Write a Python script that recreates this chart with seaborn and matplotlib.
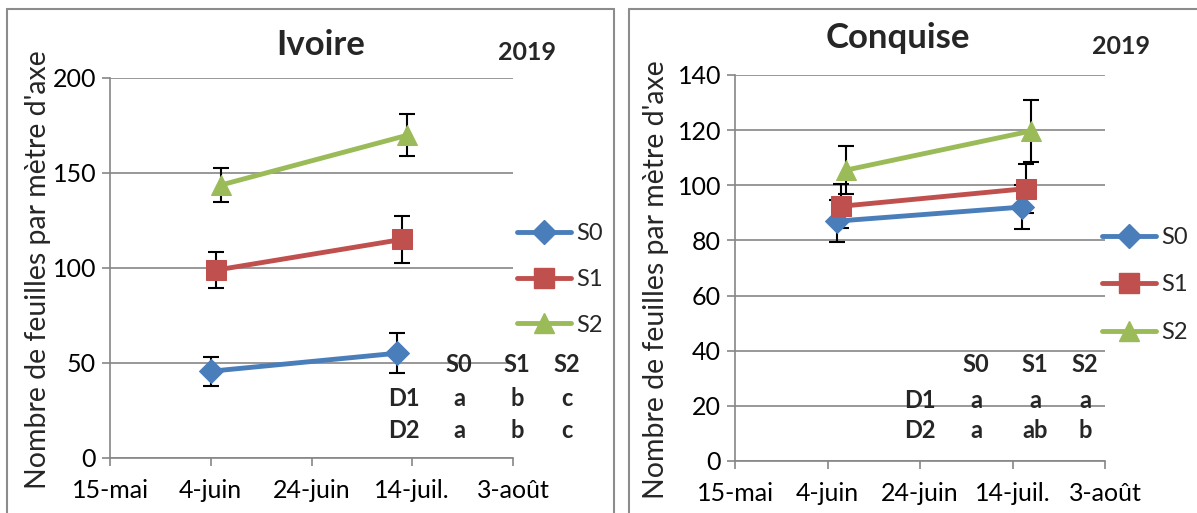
import matplotlib
matplotlib.use("Agg")
import matplotlib.pyplot as plt
import matplotlib.lines as mlines
import seaborn as sns
import pandas as pd
import numpy as np

# ---------------- data ----------------
series = ["S0", "S1", "S2"]
tick_dates = ["2019-05-15", "2019-06-04", "2019-06-24", "2019-07-14", "2019-08-03"]
tick_labels = ["15-mai", "4-juin", "24-juin", "14-juil.", "3-août"]

# Ivoire
iv_dates_S0 = ["2019-06-04", "2019-07-11"]
iv_dates_S1 = ["2019-06-05", "2019-07-12"]
iv_dates_S2 = ["2019-06-06", "2019-07-13"]
iv_S0 = [45.5, 55.0]
iv_S1 = [98.7, 114.9]
iv_S2 = [143.5, 169.7]
iv_err_S0 = [7.6, 10.5]
iv_err_S1 = [9.6, 12.5]
iv_err_S2 = [8.8, 11.0]

# Conquise
cq_dates_S0 = ["2019-06-06", "2019-07-16"]
cq_dates_S1 = ["2019-06-07", "2019-07-17"]
cq_dates_S2 = ["2019-06-08", "2019-07-18"]
cq_S0 = [87.0, 92.1]
cq_S1 = [92.4, 98.8]
cq_S2 = [105.5, 119.7]
cq_err_S0 = [7.6, 8.0]
cq_err_S1 = [8.0, 9.0]
cq_err_S2 = [8.6, 11.3]

iv_yticks = [0, 50, 100, 150, 200]
cq_yticks = [0, 20, 40, 60, 80, 100, 120, 140]

iv_letters_header = ["S0", "S1", "S2"]
iv_letters_D1 = ["a", "b", "c"]
iv_letters_D2 = ["a", "b", "c"]
cq_letters_header = ["S0", "S1", "S2"]
cq_letters_D1 = ["a", "a", "a"]
cq_letters_D2 = ["a", "ab", "b"]

# ---------------- style ----------------
sns.set_theme(style="white")
FONT = ["Lato", "DejaVu Sans"]
plt.rcParams["font.family"] = FONT

colors = {"S0": "#4A7EBB", "S1": "#C0504D", "S2": "#9BBB59"}
markers = {"S0": "D", "S1": "s", "S2": "^"}
msizes = {"S0": 12, "S1": 14, "S2": 15}
LW = 3.5
GREY = "#868686"

W, H = 1197, 513
fig = plt.figure(figsize=(W / 100, H / 100), dpi=100)


def px_axes(x0, y0, x1, y1):
    return fig.add_axes([x0 / W, 1 - y1 / H, (x1 - x0) / W, (y1 - y0) / H])


def build_df(d0, d1, d2, v0, v1, v2, e0, e1, e2):
    rows = []
    for s, d, v, e in zip(series, [d0, d1, d2], [v0, v1, v2], [e0, e1, e2]):
        for dd, vv, ee in zip(d, v, e):
            rows.append({"date": pd.Timestamp(dd), "value": vv, "err": ee, "serie": s})
    return pd.DataFrame(rows)


def draw_panel(ax, df, yticks, ylim):
    for s in series:
        sub = df[df["serie"] == s]
        ax.errorbar(sub["date"], sub["value"], yerr=sub["err"], fmt="none",
                    ecolor="black", elinewidth=1.5, capsize=6, capthick=1.5, zorder=3)
        sns.lineplot(data=sub, x="date", y="value", ax=ax, color=colors[s],
                     marker=markers[s], markersize=msizes[s], markeredgecolor=colors[s],
                     linewidth=LW, zorder=4, legend=False)
    ax.set_xlim(pd.Timestamp(tick_dates[0]), pd.Timestamp(tick_dates[-1]))
    ax.set_ylim(*ylim)
    ax.set_xticks([pd.Timestamp(t) for t in tick_dates])
    ax.set_xticklabels(tick_labels)
    ax.set_yticks(yticks)
    ax.set_yticklabels([str(t) for t in yticks])
    ax.set_xlabel("")
    ax.set_ylabel("")
    ax.grid(axis="y", color=GREY, linewidth=1.2)
    ax.grid(axis="x", visible=False)
    ax.set_axisbelow(True)
    for sp in ["top", "right"]:
        ax.spines[sp].set_visible(False)
    for sp in ["left", "bottom"]:
        ax.spines[sp].set_color(GREY)
        ax.spines[sp].set_linewidth(1.2)
    ax.tick_params(axis="both", which="both", direction="out", length=6, width=1.2,
                   color=GREY, labelsize=18, labelcolor="black", pad=4,
                   left=True, bottom=True)
    ax.tick_params(axis="x", pad=9)
    ax.set_facecolor("none")


# ---------------- Ivoire ----------------
ax1 = px_axes(110, 77.7, 513, 457.7)
df_iv = build_df(iv_dates_S0, iv_dates_S1, iv_dates_S2, iv_S0, iv_S1, iv_S2,
                 iv_err_S0, iv_err_S1, iv_err_S2)
draw_panel(ax1, df_iv, iv_yticks, (0, 200))

# ---------------- Conquise ----------------
ax2 = px_axes(735, 75, 1105, 461)
df_cq = build_df(cq_dates_S0, cq_dates_S1, cq_dates_S2, cq_S0, cq_S1, cq_S2,
                 cq_err_S0, cq_err_S1, cq_err_S2)
draw_panel(ax2, df_cq, cq_yticks, (0, 140))


def fx(x):
    return x / W


def fy(y):
    return 1 - y / H


# titles / year
fig.text(fx(321), fy(45), "Ivoire", ha="center", va="center", fontsize=25, fontweight="bold")
fig.text(fx(527), fy(52), "2019", ha="center", va="center", fontsize=18, fontweight="bold")
fig.text(fx(898), fy(38), "Conquise", ha="center", va="center", fontsize=25, fontweight="bold")
fig.text(fx(1121), fy(47), "2019", ha="center", va="center", fontsize=18, fontweight="bold")

# y labels
ylab = "Nombre de feuilles par mètre d'axe"
fig.text(fx(38), fy(270), ylab, rotation=90, ha="center", va="center", fontsize=20.5)
fig.text(fx(656), fy(280), ylab, rotation=90, ha="center", va="center", fontsize=20.5)

# legends
def make_legend(x, y, spacing):
    handles = [mlines.Line2D([], [], color=colors[s], marker=markers[s], markersize=msizes[s],
                             markeredgecolor=colors[s], linewidth=LW, label=s) for s in series]
    fig.legend(handles=handles, loc="upper left", bbox_to_anchor=(fx(x), fy(y)),
               frameon=False, fontsize=17, handlelength=2.3, handletextpad=0.2,
               labelspacing=spacing, borderpad=0, borderaxespad=0)


make_legend(517, 223, 1.05)
make_legend(1102, 227, 1.12)

# significance letters
def letters(xs, xrow, rows_y, header, d1, d2):
    kw = dict(ha="center", va="center", fontsize=17, fontweight="bold")
    for x, t in zip(xs, header):
        fig.text(fx(x), fy(rows_y[0]), t, **kw)
    fig.text(fx(xrow), fy(rows_y[1]), "D1", **kw)
    fig.text(fx(xrow), fy(rows_y[2]), "D2", **kw)
    for x, t in zip(xs, d1):
        fig.text(fx(x), fy(rows_y[1]), t, **kw)
    for x, t in zip(xs, d2):
        fig.text(fx(x), fy(rows_y[2]), t, **kw)


letters([459, 517, 567], 404, [365, 398, 431], iv_letters_header, iv_letters_D1, iv_letters_D2)
letters([976, 1035, 1085], 920, [365, 400, 431], cq_letters_header, cq_letters_D1, cq_letters_D2)

# chart frames
fc = "#8c8c8c"
fig.add_artist(mlines.Line2D([fx(7), fx(7)], [fy(9), 0], color=fc, lw=1.5))
fig.add_artist(mlines.Line2D([fx(7), fx(614)], [fy(9), fy(9)], color=fc, lw=1.5))
fig.add_artist(mlines.Line2D([fx(614), fx(614)], [fy(9), 0], color=fc, lw=1.5))
fig.add_artist(mlines.Line2D([fx(629), fx(629)], [fy(9), 0], color=fc, lw=1.5))
fig.add_artist(mlines.Line2D([fx(629), 1], [fy(9), fy(9)], color=fc, lw=1.5))

fig.savefig("out.png", dpi=100, facecolor="white")
